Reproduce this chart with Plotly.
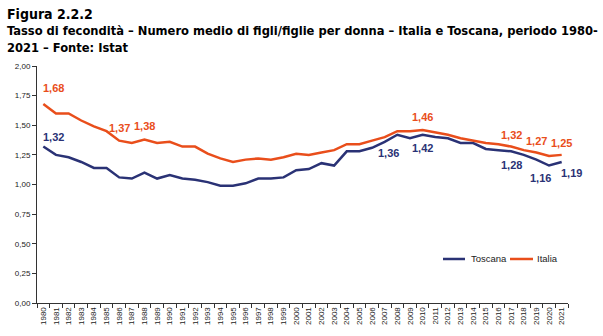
import plotly.graph_objects as go

years = [str(y) for y in range(1980, 2022)]
toscana = [1.32, 1.25, 1.23, 1.19, 1.14, 1.14, 1.06, 1.05, 1.10, 1.05, 1.08, 1.05, 1.04, 1.02, 0.99, 0.99,
           1.01, 1.05, 1.05, 1.06, 1.12, 1.13, 1.18, 1.16, 1.28, 1.28, 1.31, 1.36, 1.42, 1.39, 1.42, 1.40,
           1.39, 1.35, 1.35, 1.30, 1.29, 1.28, 1.25, 1.21, 1.16, 1.19]
italia = [1.68, 1.60, 1.60, 1.54, 1.49, 1.45, 1.37, 1.35, 1.38, 1.35, 1.36, 1.32, 1.32, 1.26, 1.22, 1.19,
          1.21, 1.22, 1.21, 1.23, 1.26, 1.25, 1.27, 1.29, 1.34, 1.34, 1.37, 1.40, 1.45, 1.45, 1.46, 1.44,
          1.42, 1.39, 1.37, 1.35, 1.34, 1.32, 1.29, 1.27, 1.24, 1.25]

italia_label_years = ["1980", "1986", "1988", "2010", "2017", "2019", "2021"]
toscana_label_years = ["1980", "2007", "2010", "2017", "2020", "2021"]
# per-label offsets (px): (xshift, yshift)
italia_offsets = [(10, 16), (0, 13), (0, 13), (0, 13), (0, 12), (0, 12), (0, 12)]
toscana_offsets = [(10, 10), (4, -11), (0, -13), (0, -14), (-9, -12), (10, -11)]

C_TOS = "#2A3275"
C_ITA = "#E94E1B"

fig = go.Figure()
fig.add_trace(go.Scatter(x=years, y=toscana, mode="lines", name="Toscana",
                         line=dict(color=C_TOS, width=2.5), showlegend=False))
fig.add_trace(go.Scatter(x=years, y=italia, mode="lines", name="Italia",
                         line=dict(color=C_ITA, width=2.5), showlegend=False))

def fmt(v):
    return f"{v:.2f}".replace(".", ",")

for yr, (dx, dy) in zip(italia_label_years, italia_offsets):
    i = years.index(yr)
    v = italia[i]
    fig.add_annotation(x=i, y=v, text=f"<b>{fmt(v)}</b>", showarrow=False,
                       xshift=dx, yshift=dy, font=dict(family="Liberation Sans, Arial", size=11, color=C_ITA))
for yr, (dx, dy) in zip(toscana_label_years, toscana_offsets):
    i = years.index(yr)
    v = toscana[i]
    fig.add_annotation(x=i, y=v, text=f"<b>{fmt(v)}</b>", showarrow=False,
                       xshift=dx, yshift=dy, font=dict(family="Liberation Sans, Arial", size=11, color=C_TOS))

# manual legend
LF = dict(family="Liberation Sans, Arial", size=9.5, color="#222222")
legend_items = [("Toscana", C_TOS, 0.7646, 0.806, 0.8135), ("Italia", C_ITA, 0.8908, 0.9341, 0.938)]
for name, col, x0, x1, xt in legend_items:
    fig.add_shape(type="line", xref="paper", yref="paper", x0=x0, x1=x1, y0=0.1857, y1=0.1857,
                  line=dict(color=col, width=2.5))
    fig.add_annotation(xref="paper", yref="paper", x=xt, y=0.1857, xanchor="left", yanchor="middle",
                       text=name, showarrow=False, font=LF)

TF = "Liberation Sans Narrow, DejaVu Sans Condensed, Liberation Sans, Arial"
fig.add_annotation(xref="paper", yref="paper", x=-0.0603, y=1.262, xanchor="left", yanchor="top",
                   text="<b>Figura 2.2.2</b>", showarrow=False, align="left",
                   font=dict(family=TF, size=14, color="#000000"))
fig.add_annotation(xref="paper", yref="paper", x=-0.0603, y=1.19, xanchor="left", yanchor="top",
                   text="<b>Tasso di fecondità – Numero medio di figli/figlie per donna – Italia e Toscana, periodo 1980-<br>2021 – Fonte: Istat</b>",
                   showarrow=False, align="left",
                   font=dict(family=TF, size=12.8, color="#000000"))

fig.update_layout(
    width=603, height=336,
    margin=dict(l=37, r=35, t=66, b=33),
    paper_bgcolor="white", plot_bgcolor="white",
    separators=",.",
    showlegend=False,
    xaxis=dict(type="category", tickson="boundaries", ticks="outside", ticklen=4,
               tickcolor="#333333", showline=True, linecolor="#333333", linewidth=1,
               showgrid=False, tickangle=-90, range=[-0.5, 41.5],
               tickfont=dict(family="Liberation Sans, Arial", size=8, color="#222222")),
    yaxis=dict(range=[0, 2], dtick=0.25, tickformat=".2f", ticks="outside", ticklen=4,
               tickcolor="#333333", showline=True, linecolor="#333333", linewidth=1,
               showgrid=False, zeroline=False,
               tickfont=dict(family="Liberation Sans, Arial", size=8, color="#222222")),
)

fig.write_html("out.html")
